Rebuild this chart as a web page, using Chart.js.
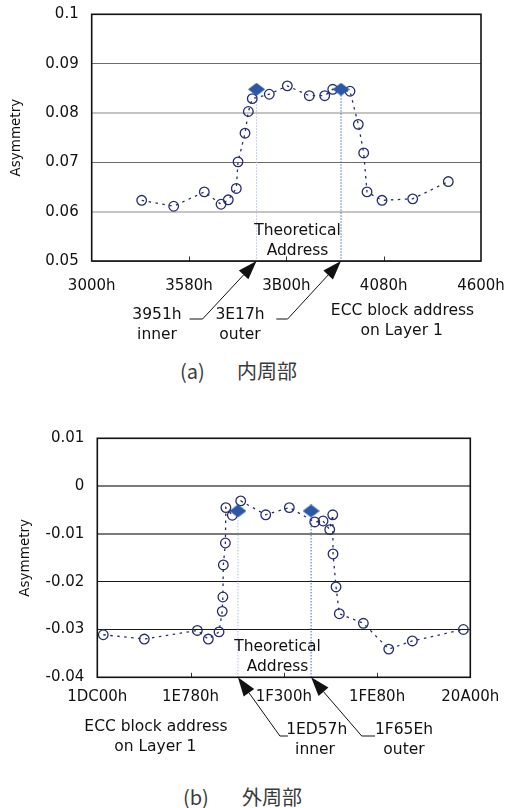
<!DOCTYPE html>
<html><head><meta charset="utf-8">
<script src="https://cdn.jsdelivr.net/npm/chart.js@4"></script>
<style>
html,body{margin:0;padding:0;background:#fff;}
body{width:509px;height:808px;position:relative;overflow:hidden;}
canvas{position:absolute;left:0;}
#c1{top:0}
#c2{top:420px}
.cap{position:absolute;font-family:"Noto Sans CJK JP","Noto Sans",sans-serif;font-size:20px;line-height:20px;color:#3a3a3a;white-space:nowrap;}
</style></head><body>
<canvas id="c1" width="509" height="345"></canvas>
<canvas id="c2" width="509" height="345"></canvas>
<div class="cap" style="left:180px;top:361px">(a)</div>
<div class="cap" style="left:237px;top:361px">内周部</div>
<div class="cap" style="left:183px;top:787px">(b)</div>
<div class="cap" style="left:242px;top:787px">外周部</div>
<script>
// ---------- (a) inner part ----------
const innerXTickLabels = ['3000h', '3580h', '3B00h', '4080h', '4600h'];
const innerYTickValues = [0.05, 0.06, 0.07, 0.08, 0.09, 0.1];
const innerYTickLabels = ['0.05', '0.06', '0.07', '0.08', '0.09', '0.1'];
const innerAddr = [13011, 13474, 13917, 14159, 14264, 14380, 14405, 14506, 14554, 14611, 14857, 15118, 15436, 15659, 15775, 16025, 16145, 16223, 16271, 16488, 16932, 17447];
const innerAsym = [0.0623, 0.0611, 0.0640, 0.0615, 0.0624, 0.0647, 0.0701, 0.0759, 0.0803, 0.0829, 0.0838, 0.0855, 0.0835, 0.0835, 0.0848, 0.0844, 0.0777, 0.0719, 0.0640, 0.0623, 0.0626, 0.0661];
const innerMarkAddr = ['3951h', '3E17h'];
const innerMarkAsym = [0.0848, 0.0848];

// ---------- (b) outer part ----------
const outerXTickLabels = ['1DC00h', '1E780h', '1F300h', '1FE80h', '20A00h'];
const outerYTickValues = [-0.04, -0.03, -0.02, -0.01, 0, 0.01];
const outerYTickLabels = ['-0.04', '-0.03', '-0.02', '-0.01', '0', '0.01'];
const outerAddr = [122045, 123340, 125014, 125361, 125699, 125800, 125820, 125835, 125900, 125915, 126119, 126384, 127173, 127919, 128721, 128983, 129194, 129289, 129298, 129393, 129497, 130255, 131057, 131802, 133413];
const outerAsym = [-0.0311, -0.0320, -0.0302, -0.0320, -0.0305, -0.0262, -0.0232, -0.0165, -0.0119, -0.0045, -0.0061, -0.0031, -0.0060, -0.0045, -0.0075, -0.0073, -0.0091, -0.0060, -0.0142, -0.0211, -0.0267, -0.0287, -0.0341, -0.0324, -0.0300];
const outerMarkAddr = ['1ED57h', '1F65Eh'];
const outerMarkAsym = [-0.0052, -0.0052];

const NAVY = '#262d6e';
const FONT = 'DejaVu Sans';
Chart.defaults.font.family = FONT;
Chart.defaults.color = '#111';

const hex = s => parseInt(s, 16);

const diamond = document.createElement('canvas');
diamond.width = 17; diamond.height = 13;
(function () {
  const d = diamond.getContext('2d');
  d.fillStyle = '#2a58a6';
  d.beginPath();
  d.moveTo(8.5, 0); d.lineTo(17, 6.5); d.lineTo(8.5, 13); d.lineTo(0, 6.5);
  d.closePath(); d.fill();
})();

function arrow(ctx, x0, y0, x1, y1) {
  const ang = Math.atan2(y1 - y0, x1 - x0), L = 19, W = 6.5;
  const bx = x1 - L * Math.cos(ang), by = y1 - L * Math.sin(ang);
  ctx.beginPath(); ctx.moveTo(x0, y0); ctx.lineTo(bx, by); ctx.stroke();
  ctx.beginPath(); ctx.moveTo(x1, y1);
  ctx.lineTo(bx + W * Math.sin(ang), by - W * Math.cos(ang));
  ctx.lineTo(bx - W * Math.sin(ang), by + W * Math.cos(ang));
  ctx.closePath(); ctx.fill();
}

function annot(o) {
  return {
    id: 'annot',
    beforeDatasetsDraw(chart) {
      const ctx = chart.ctx, a = chart.chartArea, xs = chart.scales.x, ys = chart.scales.y;
      ctx.save();
      ctx.strokeStyle = '#333'; ctx.lineWidth = 1;
      xs.ticks.forEach((t, i) => {
        if (i === 0 || i === xs.ticks.length - 1) return;
        const px = Math.round(xs.getPixelForValue(t.value)) + 0.5;
        ctx.beginPath(); ctx.moveTo(px, a.bottom); ctx.lineTo(px, a.bottom - 4.5); ctx.stroke();
      });
      o.marks.forEach((m, i) => {
        const px = xs.getPixelForValue(m.x), py = ys.getPixelForValue(m.y);
        ctx.setLineDash([1.5, 1.5]);
        ctx.strokeStyle = i === 0 ? '#b3c4e4' : '#3b6cc9';
        ctx.lineWidth = 1;
        ctx.beginPath(); ctx.moveTo(px, py); ctx.lineTo(px, a.bottom); ctx.stroke();
      });
      ctx.setLineDash([]);
      ctx.strokeStyle = '#111'; ctx.lineWidth = 1.6;
      ctx.strokeRect(a.left, a.top, a.right - a.left, a.bottom - a.top);
      ctx.restore();
    },
    afterDatasetsDraw(chart) {
      const ctx = chart.ctx, a = chart.chartArea, xs = chart.scales.x;
      ctx.save();
      ctx.fillStyle = '#111'; ctx.strokeStyle = '#111'; ctx.lineWidth = 1;
      ctx.font = '15.5px "' + FONT + '"';
      ctx.textAlign = 'center'; ctx.textBaseline = 'middle';
      ctx.fillText('Theoretical', o.theoX, a.bottom - 30.5);
      ctx.fillText('Address', o.theoX, a.bottom - 10.5);
      o.texts.forEach(t => ctx.fillText(t.t, t.x, a.bottom + t.dy));
      o.arrows.forEach(r => {
        const tipX = xs.getPixelForValue(o.marks[r.mark].x), tipY = a.bottom;
        const tx = tipX + r.dx, ty = a.bottom + r.dy;
        ctx.beginPath(); ctx.moveTo(tx, ty); ctx.lineTo(tx + r.ul, ty); ctx.stroke();
        arrow(ctx, tx, ty, tipX, tipY);
      });
      ctx.restore();
    }
  };
}

function makeChart(id, o) {
  const circles = o.addr.map((x, i) => ({ x: x, y: o.asym[i] }));
  const marks = o.markAddr.map((s, i) => ({ x: hex(s), y: o.markAsym[i] }));
  o.marks = marks;
  return new Chart(document.getElementById(id), {
    type: 'scatter',
    data: {
      datasets: [
        { data: circles, showLine: true, borderColor: NAVY, borderWidth: 1.3, borderDash: [2.5, 4.5],
          pointRadius: 4.8, pointHoverRadius: 4.8, pointBorderWidth: 1.3, pointBorderColor: NAVY,
          pointBackgroundColor: 'rgba(0,0,0,0)', pointStyle: 'circle', order: 2 },
        { data: marks, showLine: false, pointStyle: diamond, pointRadius: 8, order: 1 }
      ]
    },
    options: {
      responsive: false, animation: false, devicePixelRatio: 1,
      layout: { padding: o.padding, autoPadding: false },
      plugins: { legend: { display: false }, tooltip: { enabled: false } },
      scales: {
        x: {
          type: 'linear',
          min: hex(o.xLabels[0]), max: hex(o.xLabels[o.xLabels.length - 1]),
          afterBuildTicks: s => { s.ticks = o.xLabels.map(l => ({ value: hex(l) })); },
          afterFit: s => { s.height = o.xH; },
          ticks: { callback: (v, i) => o.xLabels[i], padding: 0, maxRotation: 0, minRotation: 0,
                   autoSkip: false, color: '#111', font: { size: 15 } },
          grid: { display: true, drawOnChartArea: false, drawTicks: true, tickLength: o.xPad,
                  tickColor: 'rgba(0,0,0,0)', color: 'rgba(0,0,0,0)' },
          border: { display: false }
        },
        y: {
          type: 'linear',
          min: o.yVals[0], max: o.yVals[o.yVals.length - 1],
          afterBuildTicks: s => { s.ticks = o.yVals.map(v => ({ value: v })); },
          afterFit: s => { s.width = o.yW; },
          ticks: { callback: (v, i) => o.yLabels[i], padding: 0, color: '#111', font: { size: 15 } },
          grid: { drawTicks: true, tickLength: 13, tickColor: 'rgba(0,0,0,0)',
                  color: c => o.gridColor(c.tick.value), lineWidth: c => o.gridWidth(c.tick.value) },
          border: { display: false },
          title: { display: true, text: 'Asymmetry', color: '#111', font: { size: 13.5 }, padding: { top: o.titlePad, bottom: 0 } }
        }
      }
    },
    plugins: [annot(o)]
  });
}

makeChart('c1', {
  addr: innerAddr, asym: innerAsym, markAddr: innerMarkAddr, markAsym: innerMarkAsym,
  xLabels: innerXTickLabels, yVals: innerYTickValues, yLabels: innerYTickLabels,
  padding: { top: 14.3, right: 28, bottom: 0, left: 0 }, yW: 91.7, xH: 84, xPad: 15.7, titlePad: 8.4,
  gridColor: v => { const k = Math.round(v * 100); return (k === 6 || k === 8) ? '#c4c4c4' : '#6c6c6c'; },
  gridWidth: v => { const k = Math.round(v * 100); return (k === 6 || k === 8) ? 2 : 1; },
  theoX: 297.5,
  texts: [
    { t: '3951h', x: 157, dy: 54 }, { t: 'inner', x: 157, dy: 73.5 },
    { t: '3E17h', x: 240, dy: 54 }, { t: 'outer', x: 240, dy: 73.5 },
    { t: 'ECC block address', x: 402.5, dy: 50 }, { t: 'on Layer 1', x: 401.7, dy: 69.5 }
  ],
  arrows: [ { mark: 0, dx: -54, dy: 58, ul: -13 }, { mark: 1, dx: -53.4, dy: 58, ul: -11.3 } ]
});

makeChart('c2', {
  addr: outerAddr, asym: outerAsym, markAddr: outerMarkAddr, markAsym: outerMarkAsym,
  xLabels: outerXTickLabels, yVals: outerYTickValues, yLabels: outerYTickLabels,
  padding: { top: 18.3, right: 38.7, bottom: 0, left: 0 }, yW: 97.3, xH: 87.7, xPad: 10.4, titlePad: 16.9,
  gridColor: v => { const k = Math.round(v * 100); return (k === 0 || k === -1) ? '#7a7a7a' : '#1a1a1a'; },
  gridWidth: v => { const k = Math.round(v * 100); return (k === 0 || k === -1) ? 2 : 1; },
  theoX: 277.5,
  texts: [
    { t: 'ECC block address', x: 156, dy: 49.4 }, { t: 'on Layer 1', x: 155.3, dy: 69.4 },
    { t: '1ED57h', x: 316.7, dy: 52.7 }, { t: 'inner', x: 315, dy: 72.7 },
    { t: '1F65Eh', x: 404, dy: 52.7 }, { t: 'outer', x: 404, dy: 72.7 }
  ],
  arrows: [ { mark: 0, dx: 42, dy: 58.7, ul: 8 }, { mark: 1, dx: 50.6, dy: 58.7, ul: 13.3 } ]
});
</script>
</body></html>
